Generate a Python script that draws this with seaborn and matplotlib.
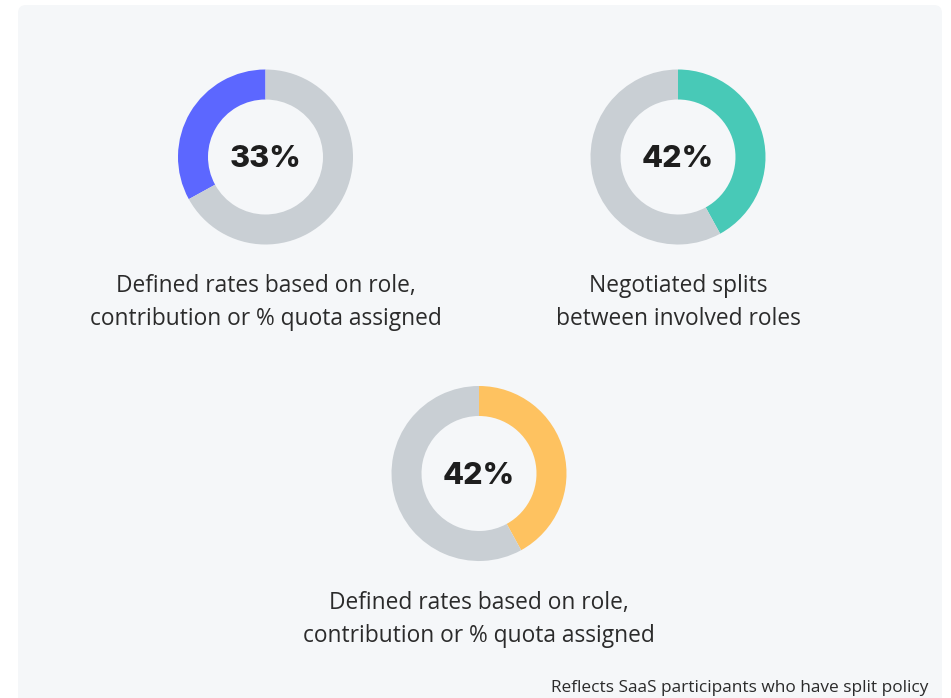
import matplotlib
matplotlib.use("Agg")
import matplotlib.pyplot as plt
import seaborn as sns
from matplotlib.patches import FancyBboxPatch

sns.set_theme(style="white")
plt.rcParams['font.family'] = ['Open Sans', 'DejaVu Sans']

# Data
values = [33, 42, 42]
pct_labels = ["33%", "42%", "42%"]
captions = [
    "Defined rates based on role,\ncontribution or % quota assigned",
    "Negotiated splits\nbetween involved roles",
    "Defined rates based on role,\ncontribution or % quota assigned",
]
colors = ["#5c67ff", "#48c9b7", "#fec260"]
counterclock = [True, False, False]
footnote = "Reflects SaaS participants who have split policy"

W, H = 951, 698
fig = plt.figure(figsize=(W / 100, H / 100), dpi=100)
fig.patch.set_facecolor("white")
ax = fig.add_axes([0, 0, 1, 1])

panel = FancyBboxPatch((18, 5), 924, 720, boxstyle="round,pad=0,rounding_size=8",
                       facecolor="#f5f7f9", edgecolor="none", zorder=0)
ax.add_patch(panel)

centers = [(265.5, 157), (678, 157), (479, 473.5)]
R_out, R_in = 87.5, 57.5
grey = "#c9cfd4"

for v, lab, cap, col, cc, (cx, cy) in zip(values, pct_labels, captions, colors, counterclock, centers):
    # y-axis is inverted, so flip direction flag
    ax.pie([v, 100 - v], colors=[col, grey], startangle=270,
           counterclock=not cc, center=(cx, cy), radius=R_out,
           wedgeprops=dict(width=R_out - R_in, linewidth=0), frame=True)
    ax.text(cx, cy + 2, lab, ha="center", va="center", fontsize=22,
            fontweight="heavy", color="#1e1e1e", family=["Inter", "DejaVu Sans"])
    ax.text(cx, cy + 145.5, cap, ha="center", va="center", fontsize=16.4,
            color="#2b2b2b", linespacing=1.5)

ax.set_xlim(0, W)
ax.set_ylim(H, 0)
ax.set_aspect("equal")
ax.axis("off")

ax.text(928, 688, footnote, ha="right", va="center", fontsize=12.4, color="#2b2b2b")

fig.savefig("out.png", dpi=100, facecolor="white")
